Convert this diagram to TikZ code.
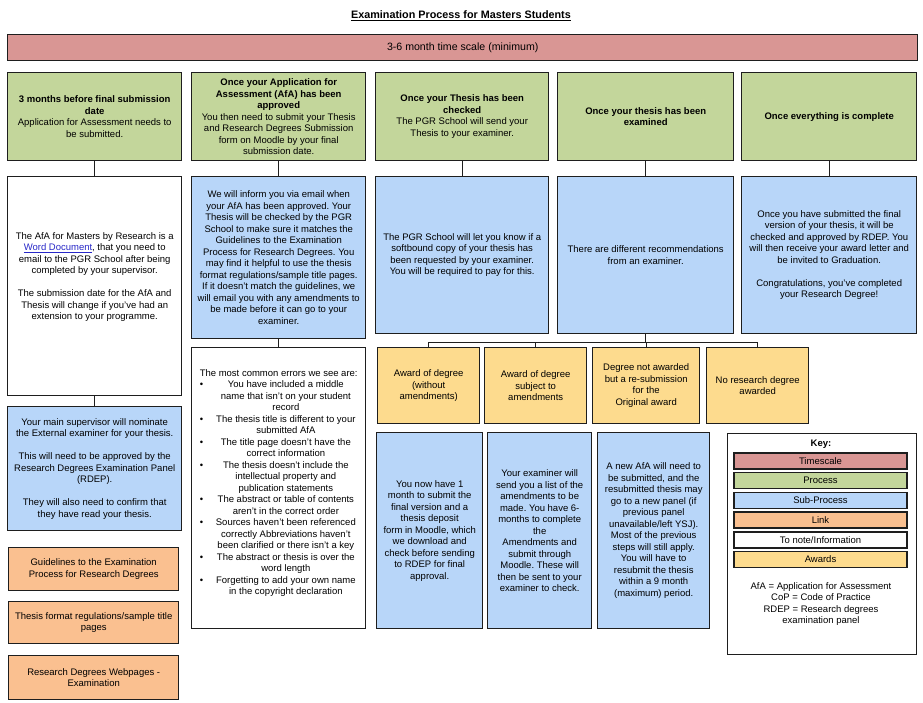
\documentclass[tikz,border=0pt]{standalone}
\usepackage{fontspec}
\setmainfont{Liberation Sans}
\usetikzlibrary{calc}
\frenchspacing

\definecolor{pinkbar}{RGB}{217,150,148}
\definecolor{greenbox}{RGB}{195,214,155}
\definecolor{bluebox}{RGB}{184,214,249}
\definecolor{orangebox}{RGB}{250,192,144}
\definecolor{yellowbox}{RGB}{253,219,142}
\definecolor{edge}{RGB}{30,30,30}
\definecolor{linkblue}{RGB}{40,40,200}

\tikzset{
  box/.style={draw=edge, line width=1.4pt, anchor=north west, align=center, inner sep=2pt,
    font=\fontsize{9.5}{11.5}\selectfont},
  process/.style={box, fill=greenbox},
  subproc/.style={box, fill=bluebox},
  info/.style={box, fill=white},
  link/.style={box, fill=orangebox},
  award/.style={box, fill=yellowbox},
  plain/.style={align=center, inner sep=0pt, font=\fontsize{9.5}{11.5}\selectfont},
  keyitem/.style={draw=edge, line width=1.4pt, minimum width=173pt, minimum height=16pt,
    inner sep=0pt, font=\fontsize{9.5}{11.5}\selectfont},
  conn/.style={draw=edge, line width=1.4pt}
}

\begin{document}
\begin{tikzpicture}[x=1pt,y=-1pt]
\fill[white] (0,0) rectangle (923,703);
\useasboundingbox (0,0) rectangle (923,703);

\node[font=\fontsize{10.8}{13}\selectfont\bfseries] (title) at (461,16) {\underline{Examination Process for Masters Students}};
\node[box, fill=pinkbar, minimum width=910pt, minimum height=26pt, font=\fontsize{10.6}{12}\selectfont] (scale) at (7,34) {3-6 month time scale (minimum)};

\node[process, minimum width=174pt, minimum height=88pt] (g1) at (7,72)
  {\textbf{3 months before final submission}\\\textbf{date}\\Application for Assessment needs to\\be submitted.};
\node[process, minimum width=174pt, minimum height=88pt] (g2) at (191,72)
  {\textbf{Once your Application for}\\\textbf{Assessment (AfA) has been}\\\textbf{approved}\\You then need to submit your Thesis\\and Research Degrees Submission\\form on Moodle by your final\\submission date.};
\node[process, minimum width=173pt, minimum height=88pt] (g3) at (375,72)
  {\textbf{Once your Thesis has been}\\\textbf{checked}\\The PGR School will send your\\Thesis to your examiner.};
\node[process, minimum width=176pt, minimum height=88pt] (g4) at (557,72)
  {\textbf{Once your thesis has been}\\\textbf{examined}};
\node[process, minimum width=175pt, minimum height=88pt] (g5) at (741,72)
  {\textbf{Once everything is complete}};

\node[info, minimum width=174pt, minimum height=219pt] (w1) at (7,176) {};
\node[plain] (w1txt) at ([yshift=9pt]w1.center)
  {The AfA for Masters by Research is a\\\textcolor{linkblue}{\underline{Word Document}}, that you need to\\email to the PGR School after being\\completed by your supervisor.\\[11.5pt]The submission date for the AfA and\\Thesis will change if you've had an\\extension to your programme.};
\node[subproc, minimum width=174pt, minimum height=124pt] (b1) at (7,406)
  {Your main supervisor will nominate\\the External examiner for your thesis.\\[11.5pt]This will need to be approved by the\\Research Degrees Examination Panel\\(RDEP).\\[11.5pt]They will also need to confirm that\\they have read your thesis.};

\node[link, minimum width=170pt, minimum height=43pt] (l1) at (8,547) {Guidelines to the Examination\\Process for Research Degrees};
\node[link, minimum width=170pt, minimum height=42pt] (l2) at (8,601) {Thesis format regulations/sample title\\pages};
\node[link, minimum width=170pt, minimum height=44pt] (l3) at (8,655) {Research Degrees Webpages -\\Examination};

\node[subproc, minimum width=174pt, minimum height=162pt] (b2) at (191,176)
  {We will inform you via email when\\your AfA has been approved. Your\\Thesis will be checked by the PGR\\School to make sure it matches the\\Guidelines to the Examination\\Process for Research Degrees. You\\may find it helpful to use the thesis\\format regulations/sample title pages.\\If it doesn't match the guidelines, we\\will email you with any amendments to\\be made before it can go to your\\examiner.};
\node[info, minimum width=174pt, minimum height=281pt] (w2) at (191,347) {};
\node[plain] (w2txt) at ([xshift=3pt,yshift=5pt]w2.center)
  {\begin{tabular}{@{}c@{\hspace{5pt}}c@{}}
   \multicolumn{2}{c}{\hspace{-6pt}The most common errors we see are:}\\
   \textbullet & You have included a middle\\
    & name that isn't on your student\\
    & record\\
   \textbullet & The thesis title is different to your\\
    & submitted AfA\\
   \textbullet & The title page doesn't have the\\
    & correct information\\
   \textbullet & The thesis doesn't include the\\
    & intellectual property and\\
    & publication statements\\
   \textbullet & The abstract or table of contents\\
    & aren't in the correct order\\
   \textbullet & Sources haven't been referenced\\
    & correctly Abbreviations haven't\\
    & been clarified or there isn't a key\\
   \textbullet & The abstract or thesis is over the\\
    & word length\\
   \textbullet & Forgetting to add your own name\\
    & in the copyright declaration
   \end{tabular}};

\node[subproc, minimum width=173pt, minimum height=157pt] (b3) at (375,176)
  {The PGR School will let you know if a\\softbound copy of your thesis has\\been requested by your examiner.\\You will be required to pay for this.};
\node[subproc, minimum width=176pt, minimum height=157pt] (b4) at (557,176)
  {There are different recommendations\\from an examiner.};
\node[subproc, minimum width=175pt, minimum height=157pt] (b5) at (741,176)
  {Once you have submitted the final\\version of your thesis, it will be\\checked and approved by RDEP. You\\will then receive your award letter and\\be invited to Graduation.\\[11.5pt]Congratulations, you've completed\\your Research Degree!};

\node[award, minimum width=102pt, minimum height=76pt] (a1) at (377,347) {Award of degree\\(without\\amendments)};
\node[award, minimum width=102pt, minimum height=76pt] (a2) at (484,347) {Award of degree\\subject to\\amendments};
\node[award, minimum width=107pt, minimum height=76pt] (a3) at (592,347) {Degree not awarded\\but a re-submission\\for the\\Original award};
\node[award, minimum width=102pt, minimum height=76pt] (a4) at (706,347) {No research degree\\awarded};

\node[subproc, minimum width=106pt, minimum height=196pt] (c1) at (376,432)
  {You now have 1\\month to submit the\\final version and a\\thesis deposit\\form in Moodle, which\\we download and\\check before sending\\to RDEP for final\\approval.};
\node[subproc, minimum width=104pt, minimum height=196pt] (c2) at (487,432)
  {Your examiner will\\send you a list of the\\amendments to be\\made. You have 6-\\months to complete\\the\\Amendments and\\submit through\\Moodle. These will\\then be sent to your\\examiner to check.};
\node[subproc, minimum width=112pt, minimum height=196pt] (c3) at (597,432)
  {A new AfA will need to\\be submitted, and the\\resubmitted thesis may\\go to a new panel (if\\previous panel\\unavailable/left YSJ).\\Most of the previous\\steps will still apply.\\You will have to\\resubmit the thesis\\within a 9 month\\(maximum) period.};

\node[info, minimum width=189pt, minimum height=221pt] (key) at (727,433) {};
\node[plain, font=\fontsize{9.5}{11.5}\selectfont\bfseries] (keyhead) at (821,444) {Key:};
\foreach \t/\c [count=\k from 0] in {Timescale/pinkbar, Process/greenbox, Sub-Process/bluebox,
  Link/orangebox, {To note/Information}/white, Awards/yellowbox}
  {\node[keyitem, fill=\c] (k\k) at (820.5,461+19.7*\k) {\t};}
\node[plain, font=\fontsize{9.5}{11.3}\selectfont] (keynote) at (821,604)
  {AfA = Application for Assessment\\CoP = Code of Practice\\RDEP = Research degrees\\examination panel};

\foreach \i/\j in {g1/w1, w1/b1, g2/b2, b2/w2, g3/b3, g4/b4, g5/b5}
  {\draw[conn] (\i.south) -- (\j.north);}
\path (b4.south) ++(0,8) coordinate (bus);
\draw[conn] (b4.south) -- (bus);
\foreach \i in {a1,a2,a3,a4}
  {\draw[conn] (bus) -| (\i.north);}
\end{tikzpicture}
\end{document}
